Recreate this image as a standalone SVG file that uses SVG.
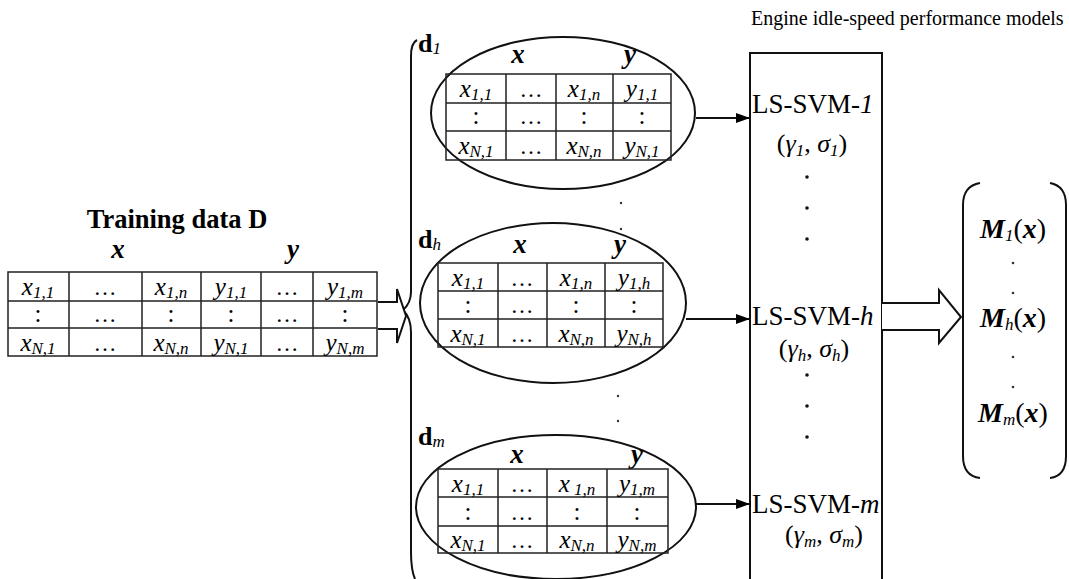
<svg xmlns="http://www.w3.org/2000/svg" width="1069" height="579" viewBox="0 0 1069 579">
<defs>
<style>
.t{font-family:'Liberation Serif','Times New Roman',serif;fill:#000}
.c{font-size:25px;text-anchor:middle}
.i{font-style:italic}
.b{font-weight:bold}
.s{font-size:17px;font-style:italic}
.e{font-size:23px}
.g{stroke:#222;stroke-width:1.5;fill:none}
.k{stroke:#111;stroke-width:2;fill:none}
.h{stroke:#111;stroke-width:2;fill:#fff}
.lbl{font-size:27px}
.par{font-size:26px;text-anchor:middle}
.m{font-size:28px;text-anchor:middle}
.hd{font-size:27px;font-weight:bold;font-style:italic;text-anchor:middle}
</style>
<marker id="ah" markerWidth="14" markerHeight="10" refX="14" refY="5" orient="auto" markerUnits="userSpaceOnUse">
<path d="M0,0 L14,5 L0,10 z" fill="#000"/>
</marker>
</defs>
<rect width="1069" height="579" fill="#fff"/>

<text class="t" x="751" y="25" font-size="20">Engine idle-speed performance models</text>

<g id="training-data">
<text class="t b" x="177" y="228" font-size="26.5" text-anchor="middle">Training data D</text>
<text class="t hd" x="118" y="258" font-size="25">x</text>
<text class="t hd" x="293" y="258" font-size="25">y</text>
<rect class="g" x="8" y="272" width="369" height="84"/>
<path class="g" d="M8 301H377M8 328H377M69 272V356M142 272V356M201 272V356M261 272V356M313 272V356"/>
<g class="t c">
<text x="38" y="295"><tspan class="i">x</tspan><tspan class="s" dy="3">1,1</tspan></text>
<text class="e" x="105" y="295">…</text>
<text x="171" y="295"><tspan class="i">x</tspan><tspan class="s" dy="3">1,n</tspan></text>
<text x="231" y="295"><tspan class="i">y</tspan><tspan class="s" dy="3">1,1</tspan></text>
<text class="e" x="287" y="295">…</text>
<text x="345" y="295"><tspan class="i">y</tspan><tspan class="s" dy="3">1,m</tspan></text>
<text x="38" y="322">:</text>
<text class="e" x="105" y="322">…</text>
<text x="171" y="322">:</text>
<text x="231" y="322">:</text>
<text class="e" x="287" y="322">…</text>
<text x="345" y="322">:</text>
<text x="38" y="351"><tspan class="i">x</tspan><tspan class="s" dy="3">N,1</tspan></text>
<text class="e" x="105" y="351">…</text>
<text x="171" y="351"><tspan class="i">x</tspan><tspan class="s" dy="3">N,n</tspan></text>
<text x="231" y="351"><tspan class="i">y</tspan><tspan class="s" dy="3">N,1</tspan></text>
<text class="e" x="287" y="351">…</text>
<text x="345" y="351"><tspan class="i">y</tspan><tspan class="s" dy="3">N,m</tspan></text>
</g>
</g>

<g id="split-brace">
<path class="k" d="M417 40 Q411 43 411 56 L411 292 Q411 303 403 310 Q411 318 411 332 L411 552 Q411 570 415 579"/>
</g>

<g id="subset-1">
<ellipse class="k" cx="563" cy="113" rx="132" ry="76"/>
<text class="t b" x="418" y="52" font-size="26">d<tspan class="s" font-weight="normal" dy="2">1</tspan></text>
<text class="t hd" x="518" y="63">x</text>
<text class="t hd" x="630" y="63">y</text>
<rect class="g" x="446" y="74" width="225" height="86"/>
<path class="g" d="M446 103H671M446 131H671M506 74V160M556 74V160M613 74V160"/>
<g class="t c">
<text x="476" y="97"><tspan class="i">x</tspan><tspan class="s" dy="3">1,1</tspan></text>
<text class="e" x="531" y="97">…</text>
<text x="584" y="97"><tspan class="i">x</tspan><tspan class="s" dy="3">1,n</tspan></text>
<text x="642" y="97"><tspan class="i">y</tspan><tspan class="s" dy="3">1,1</tspan></text>
<text x="476" y="124">:</text>
<text class="e" x="531" y="124">…</text>
<text x="584" y="124">:</text>
<text x="642" y="124">:</text>
<text x="476" y="154"><tspan class="i">x</tspan><tspan class="s" dy="3">N,1</tspan></text>
<text class="e" x="531" y="154">…</text>
<text x="584" y="154"><tspan class="i">x</tspan><tspan class="s" dy="3">N,n</tspan></text>
<text x="642" y="154"><tspan class="i">y</tspan><tspan class="s" dy="3">N,1</tspan></text>
</g>
</g>

<g id="subset-h">
<ellipse class="k" cx="553" cy="303" rx="133" ry="80"/>
<text class="t b" x="418" y="248" font-size="26">d<tspan class="s" font-weight="normal" dy="2">h</tspan></text>
<text class="t hd" x="520" y="253">x</text>
<text class="t hd" x="620" y="253">y</text>
<rect class="g" x="438" y="263" width="225" height="84"/>
<path class="g" d="M438 291H663M438 319H663M498 263V347M547 263V347M605 263V347"/>
<g class="t c">
<text x="468" y="286"><tspan class="i">x</tspan><tspan class="s" dy="3">1,1</tspan></text>
<text class="e" x="522" y="286">…</text>
<text x="576" y="286"><tspan class="i">x</tspan><tspan class="s" dy="3">1,n</tspan></text>
<text x="634" y="286"><tspan class="i">y</tspan><tspan class="s" dy="3">1,h</tspan></text>
<text x="468" y="313">:</text>
<text class="e" x="522" y="313">…</text>
<text x="576" y="313">:</text>
<text x="634" y="313">:</text>
<text x="468" y="342"><tspan class="i">x</tspan><tspan class="s" dy="3">N,1</tspan></text>
<text class="e" x="522" y="342">…</text>
<text x="576" y="342"><tspan class="i">x</tspan><tspan class="s" dy="3">N,n</tspan></text>
<text x="634" y="342"><tspan class="i">y</tspan><tspan class="s" dy="3">N,h</tspan></text>
</g>
</g>

<g id="subset-m">
<ellipse class="k" cx="556" cy="507" rx="140" ry="72"/>
<text class="t b" x="418" y="445" font-size="26">d<tspan class="s" font-weight="normal" dy="2">m</tspan></text>
<text class="t hd" x="517" y="463">x</text>
<text class="t hd" x="637" y="463">y</text>
<rect class="g" x="438" y="469" width="230" height="84"/>
<path class="g" d="M438 497H668M438 526H668M498 469V553M547 469V553M607 469V553"/>
<g class="t c">
<text x="468" y="492"><tspan class="i">x</tspan><tspan class="s" dy="3">1,1</tspan></text>
<text class="e" x="522" y="492">…</text>
<text x="577" y="492"><tspan class="i">x</tspan><tspan class="s" dy="3"> 1,n</tspan></text>
<text x="637" y="492"><tspan class="i">y</tspan><tspan class="s" dy="3">1,m</tspan></text>
<text x="468" y="520">:</text>
<text class="e" x="522" y="520">…</text>
<text x="577" y="520">:</text>
<text x="637" y="520">:</text>
<text x="468" y="548"><tspan class="i">x</tspan><tspan class="s" dy="3">N,1</tspan></text>
<text class="e" x="522" y="548">…</text>
<text x="577" y="548"><tspan class="i">x</tspan><tspan class="s" dy="3">N,n</tspan></text>
<text x="637" y="548"><tspan class="i">y</tspan><tspan class="s" dy="3">N,m</tspan></text>
</g>
</g>

<g id="subset-dots" fill="#333">
<circle cx="621" cy="203" r="1.2"/>
<circle cx="621" cy="229" r="1.2"/>
<circle cx="618" cy="396" r="1.2"/>
<circle cx="618" cy="421" r="1.2"/>
</g>

<g id="models">
<rect class="k" x="750" y="53" width="132" height="540"/>
<text class="t lbl" x="752" y="113">LS-SVM-<tspan class="i">1</tspan></text>
<text class="t par" x="812" y="152">(<tspan class="i">γ</tspan><tspan class="s" dy="4">1</tspan><tspan dy="-4">, </tspan><tspan class="i">σ</tspan><tspan class="s" dy="4">1</tspan><tspan dy="-4">)</tspan></text>
<text class="t lbl" x="752" y="325">LS-SVM-<tspan class="i">h</tspan></text>
<text class="t par" x="814" y="357">(<tspan class="i">γ</tspan><tspan class="s" dy="4">h</tspan><tspan dy="-4">, </tspan><tspan class="i">σ</tspan><tspan class="s" dy="4">h</tspan><tspan dy="-4">)</tspan></text>
<text class="t lbl" x="752" y="513">LS-SVM-<tspan class="i">m</tspan></text>
<text class="t par" x="824" y="543">(<tspan class="i">γ</tspan><tspan class="s" dy="4">m</tspan><tspan dy="-4">, </tspan><tspan class="i">σ</tspan><tspan class="s" dy="4">m</tspan><tspan dy="-4">)</tspan></text>
<g fill="#111">
<circle cx="807" cy="177" r="1.8"/>
<circle cx="807" cy="208" r="1.8"/>
<circle cx="807" cy="239" r="1.8"/>
<circle cx="807" cy="375" r="1.8"/>
<circle cx="807" cy="406" r="1.8"/>
<circle cx="807" cy="437" r="1.8"/>
</g>
</g>

<g id="outputs">
<path class="k" d="M980 183 Q963 186 963 205 L963 456 Q963 476 980 478"/>
<path class="k" d="M1050 183 Q1066 186 1066 205 L1066 456 Q1066 476 1050 478"/>
<text class="t m" x="1013" y="238"><tspan class="b i">M</tspan><tspan class="s" dy="3">1</tspan><tspan dy="-3">(</tspan><tspan class="b i">x</tspan>)</text>
<text class="t m" x="1013" y="327"><tspan class="b i">M</tspan><tspan class="s" dy="3">h</tspan><tspan dy="-3">(</tspan><tspan class="b i">x</tspan>)</text>
<text class="t m" x="1013" y="422"><tspan class="b i">M</tspan><tspan class="s" dy="3">m</tspan><tspan dy="-3">(</tspan><tspan class="b i">x</tspan>)</text>
<g fill="#333">
<circle cx="1013" cy="263" r="1.3"/>
<circle cx="1013" cy="293" r="1.3"/>
<circle cx="1013" cy="357" r="1.3"/>
<circle cx="1013" cy="387" r="1.3"/>
</g>
</g>

<g id="connectors">
<path class="h" d="M378 302 L397 302 L397 289 L406 316 L397 343 L397 329 L378 329"/>
<line class="k" x1="696" y1="118" x2="750" y2="118" marker-end="url(#ah)"/>
<line class="k" x1="686" y1="319" x2="750" y2="319" marker-end="url(#ah)"/>
<line class="k" x1="696" y1="504" x2="750" y2="504" marker-end="url(#ah)"/>
<path class="h" d="M882 303 L939 303 L939 290 L961 317 L939 343 L939 330 L882 330"/>
</g>
</svg>
